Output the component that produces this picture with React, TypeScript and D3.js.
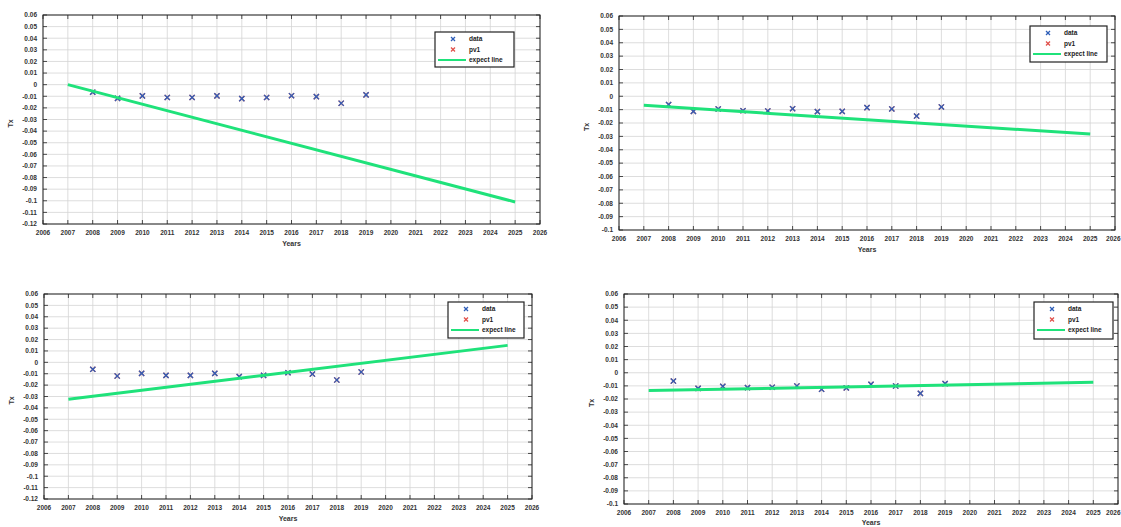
import React from 'react';
import * as d3 from 'd3';

// observation years and fitted-line end years
const years = [2008, 2009, 2010, 2011, 2012, 2013, 2014, 2015, 2016, 2017, 2018, 2019];
const lineYears = [2007, 2025];
const xTickYears = d3.range(2006, 2027);

// Tx values per panel (top-left, top-right, bottom-left, bottom-right)
const dataTL = [-0.0065, -0.0118, -0.0097, -0.011, -0.011, -0.0097, -0.012, -0.011, -0.0095, -0.0103, -0.016, -0.0088];
const dataTR = [-0.0062, -0.0113, -0.0095, -0.0108, -0.011, -0.0093, -0.0115, -0.0113, -0.0085, -0.0095, -0.0148, -0.008];
const dataBL = [-0.0061, -0.012, -0.0097, -0.0114, -0.0114, -0.0097, -0.0126, -0.0114, -0.0091, -0.0103, -0.0155, -0.0085];
const dataBR = [-0.0063, -0.0119, -0.0103, -0.0113, -0.011, -0.0101, -0.0126, -0.0116, -0.0088, -0.0101, -0.0157, -0.0083];

// expect line values at 2007 and 2025
const lineTL = [0.0, -0.101];
const lineTR = [-0.0068, -0.0283];
const lineBL = [-0.0325, 0.0149];
const lineBR = [-0.0136, -0.0073];

// y ranges (in hundredths)
const yRangeTL = [-12, 6];
const yRangeTR = [-10, 6];
const yRangeBL = [-12, 6];
const yRangeBR = [-10, 6];

const legendLabels = ['data', 'pv1', 'expect line'];

const BLUE = '#2f5fb8';
const RED = '#e0504a';
const GREEN = '#1fe27a';
const FONT = 'Liberation Sans, Arial, sans-serif';
const W = 1121;

const panels = [
  { data: dataTL, line: lineTL, yr: yRangeTL, box: [43, 540, 15, 224], legend: [435, 32, 79, 35] },
  { data: dataTR, line: lineTR, yr: yRangeTR, box: [619, 1115, 16, 230], legend: [1030, 26, 77, 36] },
  { data: dataBL, line: lineBL, yr: yRangeBL, box: [44, 532, 294, 499], legend: [448, 302, 76, 36] },
  { data: dataBR, line: lineBR, yr: yRangeBR, box: [624, 1118, 294, 504], legend: [1034, 302, 79, 37] },
];

const fmt = (v: number) => String(+v.toFixed(2));

function Cross({ x, y, color, s = 2.6 }: { x: number; y: number; color: string; s?: number }) {
  return (
    <g stroke={color} strokeWidth={1.3}>
      <line x1={x - s} y1={y - s} x2={x + s} y2={y + s} />
      <line x1={x - s} y1={y + s} x2={x + s} y2={y - s} />
    </g>
  );
}

function Panel({ p }: { p: typeof panels[number] }) {
  const [l, r, t, b] = p.box;
  const x = d3.scaleLinear().domain([2006, 2026]).range([l, r]);
  const y = d3.scaleLinear().domain([p.yr[0] / 100, p.yr[1] / 100]).range([b, t]);
  const yTicks = d3.range(p.yr[0], p.yr[1] + 1).map(i => i / 100);
  const line = d3.line<number>().x((_, i) => x(lineYears[i])).y(d => y(d));
  const [lx, ly, lw, lh] = p.legend;

  return (
    <g>
      <rect x={l} y={t} width={r - l} height={b - t} fill="#fff" />
      {/* grid */}
      <g stroke="#d4d4d4" strokeWidth={0.8}>
        {xTickYears.map(v => <line key={'gx' + v} x1={x(v)} x2={x(v)} y1={t} y2={b} />)}
        {yTicks.map(v => <line key={'gy' + v} x1={l} x2={r} y1={y(v)} y2={y(v)} />)}
      </g>
      {/* ticks on all four sides */}
      <g stroke="#222" strokeWidth={0.8}>
        {xTickYears.map(v => (
          <g key={'tx' + v}>
            <line x1={x(v)} x2={x(v)} y1={b} y2={b - 4} />
            <line x1={x(v)} x2={x(v)} y1={t} y2={t + 4} />
          </g>
        ))}
        {yTicks.map(v => (
          <g key={'ty' + v}>
            <line x1={l} x2={l + 4} y1={y(v)} y2={y(v)} />
            <line x1={r} x2={r - 4} y1={y(v)} y2={y(v)} />
          </g>
        ))}
      </g>
      <rect x={l} y={t} width={r - l} height={b - t} fill="none" stroke="#222" strokeWidth={1} />
      {/* tick labels */}
      <g fontFamily={FONT} fontSize={6.5} fontWeight="bold" fill="#333">
        {xTickYears.map(v => {
          const clipped = x(v) + 9 > W;
          return (
            <text key={'lx' + v} x={clipped ? W - 0.5 : x(v)} y={b + 11}
              textAnchor={clipped ? 'end' : 'middle'}>{v}</text>
          );
        })}
        {yTicks.map(v => (
          <text key={'ly' + v} x={l - 6} y={y(v) + 2.3} textAnchor="end">{fmt(v)}</text>
        ))}
      </g>
      <text x={(l + r) / 2} y={Math.min(b + 22, 525)} textAnchor="middle"
        fontFamily={FONT} fontSize={7} fontWeight="bold" fill="#333">Years</text>
      <text transform={`translate(${l - 30},${(t + b) / 2 + 4}) rotate(-90)`} textAnchor="middle"
        fontFamily={FONT} fontSize={7} fontWeight="bold" fill="#333">Tx</text>
      {/* markers */}
      {p.data.map((v, i) => <Cross key={'r' + i} x={x(years[i])} y={y(v)} color={RED} />)}
      {p.data.map((v, i) => <Cross key={'b' + i} x={x(years[i])} y={y(v)} color={BLUE} />)}
      {/* expect line */}
      <path d={line(p.line) || ''} fill="none" stroke={GREEN} strokeWidth={3} />
      {/* legend */}
      <rect x={lx} y={ly} width={lw} height={lh} fill="#fff" stroke="#222" strokeWidth={1.2} />
      {legendLabels.map((lab, i) => {
        const cy = ly + 7 + i * 10.5;
        return (
          <g key={lab}>
            {i === 0 && <Cross x={lx + 18} y={cy} color={BLUE} s={2} />}
            {i === 1 && <Cross x={lx + 18} y={cy} color={RED} s={2} />}
            {i === 2 && <line x1={lx + 3} x2={lx + 31} y1={cy} y2={cy} stroke={GREEN} strokeWidth={2} />}
            <text x={lx + 34} y={cy + 2.3} fontFamily={FONT} fontSize={6.5} fontWeight="bold" fill="#222">{lab}</text>
          </g>
        );
      })}
    </g>
  );
}

export default function App() {
  return (
    <svg width={W} height={527} style={{ position: 'absolute', left: 0, top: 0, background: '#fff' }}>
      <rect width={W} height={527} fill="#fff" />
      {panels.map((p, i) => <Panel key={i} p={p} />)}
    </svg>
  );
}
